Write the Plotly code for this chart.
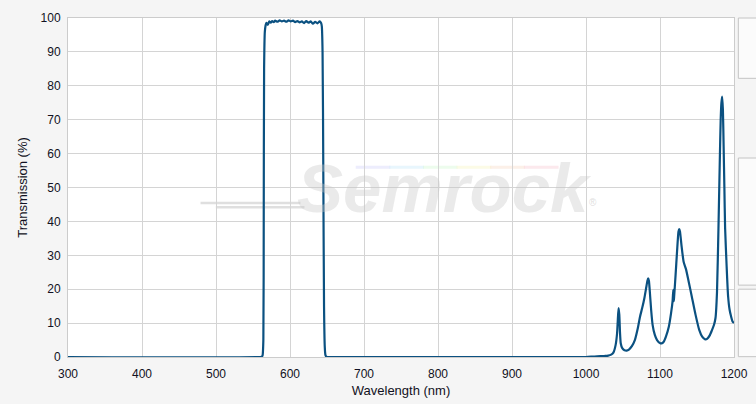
import plotly.graph_objects as go

# ---- data ----
wavelength = [
    300, 560, 562, 563, 564, 564.5, 565, 566, 567, 568, 570, 572, 574, 576, 578, 580,
    583, 586, 589, 592, 595, 598, 601, 604, 607, 610, 613, 616, 619, 622, 625,
    628, 631, 634, 637, 640, 642, 643, 644, 645, 646, 647, 648, 650, 660,
    990, 1000, 1008, 1015, 1025, 1030, 1034, 1037, 1040, 1042, 1043, 1044, 1045, 1046,
    1047, 1049, 1052, 1055, 1058, 1062, 1066, 1070, 1073, 1076, 1079, 1081, 1083,
    1084, 1085, 1086, 1088, 1090, 1093, 1096, 1100, 1102, 1105, 1108, 1112, 1115,
    1117, 1118, 1118.6, 1119, 1121, 1123, 1125, 1126, 1127, 1129, 1132, 1135,
    1139, 1143, 1148, 1153, 1157, 1161, 1164, 1167, 1170, 1173, 1175, 1177, 1179,
    1181, 1182, 1183, 1184, 1185, 1186, 1187, 1188, 1190, 1192, 1194, 1196, 1198, 1200,
]
transmission = [
    0, 0, 0.1, 0.5, 5, 40, 85, 96, 97.8, 98.6, 98.0, 99.0, 98.6, 99.1, 98.8, 99.2,
    98.9, 99.3, 99.0, 99.2, 98.9, 99.3, 99.0, 99.2, 98.8, 99.1, 98.7, 99.0, 98.5, 99.1, 98.6,
    99.0, 98.3, 98.9, 98.4, 99.0, 98.5, 97.5, 90, 55, 15, 3, 0.5, 0, 0,
    0, 0, 0.1, 0.2, 0.3, 0.4, 0.7, 1.3, 3.5, 7, 11, 14.4, 12.5, 7,
    4, 2.6, 2.0, 1.9, 2.2, 3.2, 5.0, 8.5, 11.9, 14.5, 17.5, 20, 22.5,
    23.2, 22.5, 20, 14, 9.5, 6.5, 5, 4.1, 4.0, 4.5, 6, 9, 13,
    16.5, 19.8, 16.5, 17.5, 24, 31, 37, 37.7, 37, 33, 28, 26,
    22, 17.8, 12.5, 8, 6, 5.2, 5.4, 6.3, 7.8, 9.5, 11.5, 19, 38,
    60, 70, 75, 76.8, 73, 62, 50, 38, 27, 18, 14, 12, 10.5, 10,
]

x_ticks = [300, 400, 500, 600, 700, 800, 900, 1000, 1100, 1200]
y_ticks = [0, 10, 20, 30, 40, 50, 60, 70, 80, 90, 100]

LINE = "#0b5181"
GRID = "#d4d4d4"
FONT = "Liberation Sans, Arial, sans-serif"

fig = go.Figure()
fig.add_trace(go.Scatter(
    x=wavelength, y=transmission, mode="lines",
    line=dict(color=LINE, width=2.2, shape="spline", smoothing=0.6),
    hoverinfo="skip", showlegend=False,
))

shapes = []
# watermark streaks (paper-space decoration)
for (x0, x1, yy) in [(0.199, 0.349, 0.454), (0.222, 0.355, 0.442)]:
    shapes.append(dict(type="line", xref="paper", yref="paper", x0=x0, x1=x1, y0=yy, y1=yy,
                       line=dict(color="rgba(215,215,215,0.8)", width=2.5), layer="below"))
rainbow = ["rgba(215,215,250,0.45)", "rgba(205,235,250,0.45)", "rgba(215,248,215,0.45)",
           "rgba(250,248,205,0.5)", "rgba(250,225,210,0.5)", "rgba(250,212,220,0.5)"]
for i, c in enumerate(rainbow):
    x0 = 0.432 + i * 0.0505
    shapes.append(dict(type="line", xref="paper", yref="paper", x0=x0, x1=x0 + 0.052,
                       y0=0.56, y1=0.56, line=dict(color=c, width=3), layer="below"))
# side panels (partially visible widgets to the right of the chart)
for (y0, y1) in [(0.822, 1.0), (0.212, 0.587), (0.001, 0.2)]:
    shapes.append(dict(type="rect", xref="paper", yref="paper", x0=1.0065, x1=1.06,
                       y0=y0, y1=y1, line=dict(color="#c4c4c4", width=1),
                       fillcolor="#fbfbfb", layer="below"))

annotations = [dict(
    text="<b><i>Semrock</i></b>", xref="paper", yref="paper", x=0.566, y=0.497,
    showarrow=False, font=dict(family="Liberation Sans, Arial", size=69,
                               color="rgba(200,200,200,0.38)"),
    xanchor="center", yanchor="middle",
), dict(
    text="®", xref="paper", yref="paper", x=0.797, y=0.455, showarrow=False,
    font=dict(family=FONT, size=10, color="rgba(200,200,200,0.6)"),
)]

fig.update_layout(
    width=756, height=404,
    margin=dict(l=68, r=22, t=18, b=47, autoexpand=False),
    paper_bgcolor="#f5f5f5",
    plot_bgcolor="#ffffff",
    font=dict(family=FONT, size=12, color="#111122"),
    shapes=shapes,
    annotations=annotations,
    xaxis=dict(
        range=[300, 1200], tickvals=x_ticks, ticktext=[str(v) for v in x_ticks],
        showgrid=True, gridcolor=GRID, gridwidth=1, automargin=False,
        showline=True, linecolor="#cccccc", mirror=True, zeroline=False,
        ticks="", ticklabelstandoff=6,
        title=dict(text="Wavelength (nm)", font=dict(size=13), standoff=5),
        tickfont=dict(size=12, color="#111122"),
    ),
    yaxis=dict(
        range=[0, 100], tickvals=y_ticks, ticktext=[str(v) for v in y_ticks],
        showgrid=True, gridcolor=GRID, gridwidth=1, automargin=False,
        showline=True, linecolor="#cccccc", mirror=True, zeroline=False,
        ticks="", ticklabelstandoff=4,
        title=dict(text="Transmission (%)", font=dict(size=13), standoff=10),
        tickfont=dict(size=12, color="#111122"),
    ),
)

fig.write_html(
    "out.html",
    config={"displayModeBar": False},
    post_script="document.body.style.margin='0';document.body.style.overflow='hidden';"
                "document.body.style.background='#f5f5f5';",
)
